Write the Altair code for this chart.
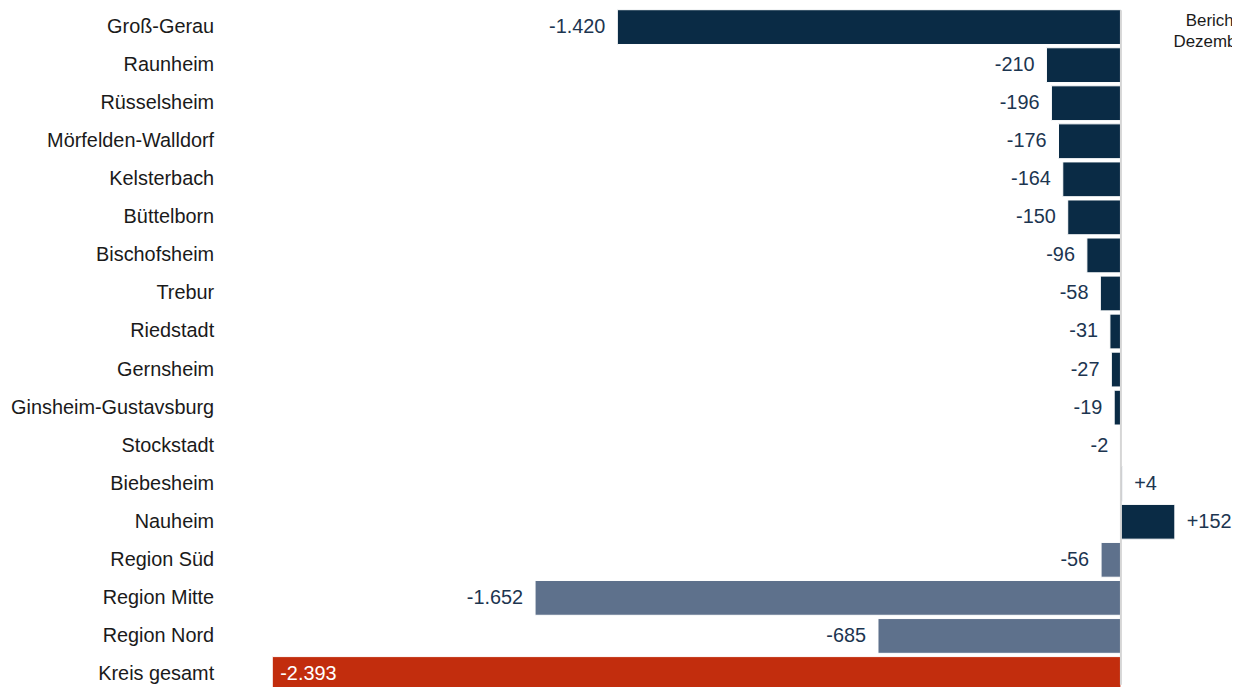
import altair as alt
import pandas as pd

names = ["Groß-Gerau", "Raunheim", "Rüsselsheim", "Mörfelden-Walldorf", "Kelsterbach",
         "Büttelborn", "Bischofsheim", "Trebur", "Riedstadt", "Gernsheim",
         "Ginsheim-Gustavsburg", "Stockstadt", "Biebesheim", "Nauheim",
         "Region Süd", "Region Mitte", "Region Nord", "Kreis gesamt"]
values = [-1420, -210, -196, -176, -164, -150, -96, -58, -31, -27, -19, -2, 4, 152,
          -56, -1652, -685, -2393]
groups = ["Gemeinde"] * 14 + ["Region"] * 3 + ["Kreis"]
header = "Änderung\nBerichtsmonat\nDezember 2022"

df = pd.DataFrame({"name": names, "value": values, "group": groups})
df["idx"] = range(len(names))
df["zero"] = 0
df["label"] = [f"{v:+,d}".replace(",", ".") if v > 0 else f"{v:,d}".replace(",", ".") for v in values]

FONT = "Liberation Sans"
W, H = 966, 679

xs = alt.Scale(domain=[-2393, 313.2], nice=False, zero=False, padding=0)
ys = alt.Scale(domain=[-0.444, 17.284], nice=False, zero=False, reverse=True, padding=0)
XV = alt.X("value:Q", scale=xs, axis=None)

base = alt.Chart(df).encode(y=alt.Y("idx:Q", scale=ys, axis=None))

bars = base.mark_bar(size=35, orient="horizontal", stroke="white", strokeWidth=1).encode(
    x=XV,
    x2="zero:Q",
    color=alt.Color("group:N",
                    scale=alt.Scale(domain=["Gemeinde", "Region", "Kreis"],
                                    range=["#0a2b45", "#5e718c", "#c22d0d"]),
                    legend=None),
)

cats = base.mark_text(align="right", baseline="middle", fontSize=20, font=FONT,
                      color="#1a1a1a").encode(x=alt.value(-58.5), text="name:N")

neg = base.transform_filter("datum.value < 0 && datum.group != 'Kreis'").mark_text(
    align="right", baseline="middle", dx=-12, fontSize=20, font=FONT, color="#1c3550"
).encode(x=XV, text="label:N")

pos = base.transform_filter("datum.value > 0").mark_text(
    align="left", baseline="middle", dx=12, fontSize=20, font=FONT, color="#1c3550"
).encode(x=XV, text="label:N")

tot = base.transform_filter("datum.group == 'Kreis'").mark_text(
    align="left", baseline="middle", dx=8, fontSize=20, font=FONT, color="white"
).encode(x=XV, text="label:N")

zero = base.transform_filter("datum.idx == 0").mark_rule(color="#d6d6d6", strokeWidth=2).encode(
    x=alt.X("zero:Q", scale=xs, axis=None), y=alt.value(0), y2=alt.value(H)
)

hdr = alt.Chart(pd.DataFrame({"t": [header]})).mark_text(
    align="right", baseline="alphabetic", fontSize=17, font=FONT, color="#1a1a1a",
    lineHeight=21, lineBreak="\n"
).encode(x=alt.value(1028), y=alt.value(-5), text="t:N")

chart = alt.layer(bars, zero, cats, neg, pos, tot, hdr).properties(
    width=W, height=H,
    autosize=alt.AutoSizeParams(type="none"),
    padding={"left": 266, "top": 0, "right": 0, "bottom": 0},
).configure_view(strokeWidth=0)

chart.save("out.html", embed_options={"renderer": "svg", "actions": False})
